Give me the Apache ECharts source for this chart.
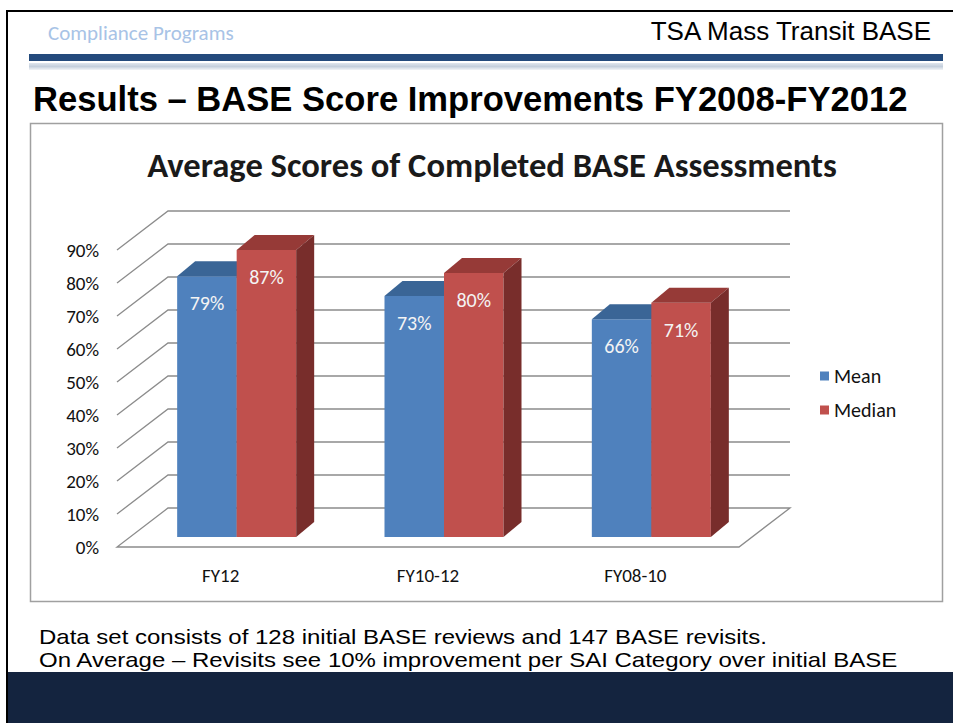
<!DOCTYPE html>
<html><head><meta charset="utf-8">
<script src="https://cdn.jsdelivr.net/npm/echarts@6/dist/echarts.min.js"></script>
<style>html,body{margin:0;padding:0;background:#fff;}#c{width:953px;height:723px;}</style>
</head><body><div id="c"></div>
<script>
// ---- data ----
const categories = ['FY12', 'FY10-12', 'FY08-10'];
const meanValues = [79, 73, 66];
const medianValues = [87, 80, 71];
const yTicks = [0, 10, 20, 30, 40, 50, 60, 70, 80, 90];
const seriesNames = ['Mean', 'Median'];

// ---- styles ----
const CAL = 'Carlito, Calibri, Lato, sans-serif';
const ARIAL = '"Liberation Sans", Arial, sans-serif';
const WALL_DX = 51, WALL_DY = -39;
const BAR_DX = 16, BAR_DY = -10;
const DEPTH_DX = 18, DEPTH_DY = -15;
const BAR_RATIO = 0.287;
const GRID_COLOR = '#8c8c8c';
const COLORS = [
  {front: '#4F81BD', top: '#3A6596', side: '#2E5482'},
  {front: '#C0504D', top: '#963A37', side: '#782D2B'}
];

const chart = echarts.init(document.getElementById('c'), null, {renderer: 'svg'});

function wallRender(params, api) {
  const cs = params.coordSys;
  const x0 = cs.x, x1 = cs.x + cs.width;
  const children = [];
  const yb = api.coord([0, yTicks[0]])[1];
  children.push({type: 'polygon', shape: {points: [[x0, yb], [x1, yb], [x1 + WALL_DX, yb + WALL_DY], [x0 + WALL_DX, yb + WALL_DY]]},
    style: {fill: '#fff', stroke: GRID_COLOR, lineWidth: 1.3}});
  yTicks.slice(1).forEach(v => {
    const y = api.coord([0, v])[1];
    children.push({type: 'polyline', shape: {points: [[x0, y], [x0 + WALL_DX, y + WALL_DY], [x1 + WALL_DX, y + WALL_DY]]},
      style: {fill: null, stroke: GRID_COLOR, lineWidth: 1.3}});
  });
  return {type: 'group', children};
}

function barRender(side) {
  const c = COLORS[side];
  return function (params, api) {
    const ci = api.value(0), v = api.value(1);
    const base = api.coord([ci, 0]);
    const top = api.coord([ci, v]);
    const bw = api.size([1, 0])[0] * BAR_RATIO;
    const cx = base[0] + BAR_DX;
    const xl = side === 0 ? cx - bw : cx;
    const xr = xl + bw;
    const yb = base[1] + BAR_DY, yt = top[1] + BAR_DY;
    return {type: 'group', children: [
      {type: 'rect', shape: {x: xl, y: yt, width: bw, height: yb - yt}, style: {fill: c.front}},
      {type: 'polygon', shape: {points: [[xl, yt], [xr, yt], [xr + DEPTH_DX, yt + DEPTH_DY], [xl + DEPTH_DX, yt + DEPTH_DY]]}, style: {fill: c.top}},
      {type: 'polygon', shape: {points: [[xr, yt], [xr + DEPTH_DX, yt + DEPTH_DY], [xr + DEPTH_DX, yb + DEPTH_DY], [xr, yb]]}, style: {fill: c.side}},
      {type: 'text', x: (xl + xr) / 2, y: yt + 27, style: {text: v + '%', fill: '#f4f4f4', fontSize: 20, fontFamily: CAL, align: 'center', verticalAlign: 'middle'}}
    ]};
  };
}

const option = {
  backgroundColor: '#fff',
  animation: false,
  title: {
    text: 'Average Scores of Completed BASE Assessments',
    left: 487, top: 142, textAlign: 'center',
    textStyle: {fontSize: 34.6, fontWeight: 'bold', fontFamily: CAL, color: '#1a1a1a'}
  },
  legend: {
    data: seriesNames, orient: 'vertical', left: 815, top: 361,
    icon: 'rect', itemWidth: 9, itemHeight: 9, itemGap: 14, itemStyle: {borderWidth: 0},
    textStyle: {fontSize: 20, fontFamily: CAL, color: '#111'}
  },
  grid: {left: 117, right: 214, top: 250, bottom: 176},
  xAxis: {
    type: 'category', data: categories,
    axisLine: {show: false}, axisTick: {show: false}, splitLine: {show: false},
    axisLabel: {margin: 19, fontSize: 19, fontFamily: CAL, color: '#111'}
  },
  yAxis: {
    type: 'value', min: 0, max: 90, interval: 10,
    axisLine: {show: false}, axisTick: {show: false}, splitLine: {show: false},
    axisLabel: {margin: 18, fontSize: 19, fontFamily: CAL, color: '#111', formatter: '{value}%'}
  },
  graphic: [
    {type: 'rect', shape: {x: 6, y: 10, width: 2, height: 713}, style: {fill: '#000'}},
    {type: 'rect', shape: {x: 6, y: 10, width: 947, height: 2}, style: {fill: '#000'}},
    {type: 'text', x: 48, y: 33, style: {text: 'Compliance Programs', fontSize: 21, fontFamily: CAL, fill: '#a8c3e6', verticalAlign: 'middle'}},
    {type: 'text', x: 931, y: 31, style: {text: 'TSA Mass Transit BASE', fontSize: 26, fontFamily: ARIAL, fill: '#000', align: 'right', verticalAlign: 'middle'}},
    {type: 'rect', shape: {x: 29, y: 54, width: 914, height: 7}, style: {fill: '#234a7c'}},
    {type: 'rect', shape: {x: 29, y: 63, width: 914, height: 7}, style: {fill: new echarts.graphic.LinearGradient(0, 0, 0, 1, [{offset: 0, color: '#dfe5ed'}, {offset: 0.5, color: '#c4cfdc'}, {offset: 1, color: '#f2f4f7'}])}},
    {type: 'text', x: 33, y: 99, style: {text: 'Results \u2013 BASE Score Improvements FY2008-FY2012', fontSize: 34.6, fontWeight: 'bold', fontFamily: ARIAL, fill: '#000', verticalAlign: 'middle'}},
    {type: 'rect', z: -1, shape: {x: 30.5, y: 123.5, width: 912, height: 478}, style: {fill: 'none', stroke: '#a0a0a0', lineWidth: 1.5}},
    {type: 'text', x: 39, y: 637, scaleX: 1.2, style: {text: 'Data set consists of 128 initial BASE reviews and 147 BASE revisits.', fontSize: 20, fontFamily: ARIAL, fill: '#000', verticalAlign: 'middle'}},
    {type: 'text', x: 39, y: 660, scaleX: 1.2, style: {text: 'On Average \u2013 Revisits see 10% improvement per SAI Category over initial BASE', fontSize: 20, fontFamily: ARIAL, fill: '#000', verticalAlign: 'middle'}},
    {type: 'rect', shape: {x: 8, y: 672, width: 945, height: 51}, style: {fill: '#14243f'}}
  ],
  series: [
    {type: 'custom', name: '_wall', silent: true, z: 1, renderItem: wallRender, data: [[0, 0]], encode: {x: 0, y: 1}},
    {type: 'custom', name: seriesNames[0], z: 2, itemStyle: {color: COLORS[0].front}, renderItem: barRender(0),
      data: meanValues.map((v, i) => [i, v]), encode: {x: 0, y: 1}},
    {type: 'custom', name: seriesNames[1], z: 3, itemStyle: {color: COLORS[1].front}, renderItem: barRender(1),
      data: medianValues.map((v, i) => [i, v]), encode: {x: 0, y: 1}}
  ]
};
chart.setOption(option);
</script>
</body></html>
